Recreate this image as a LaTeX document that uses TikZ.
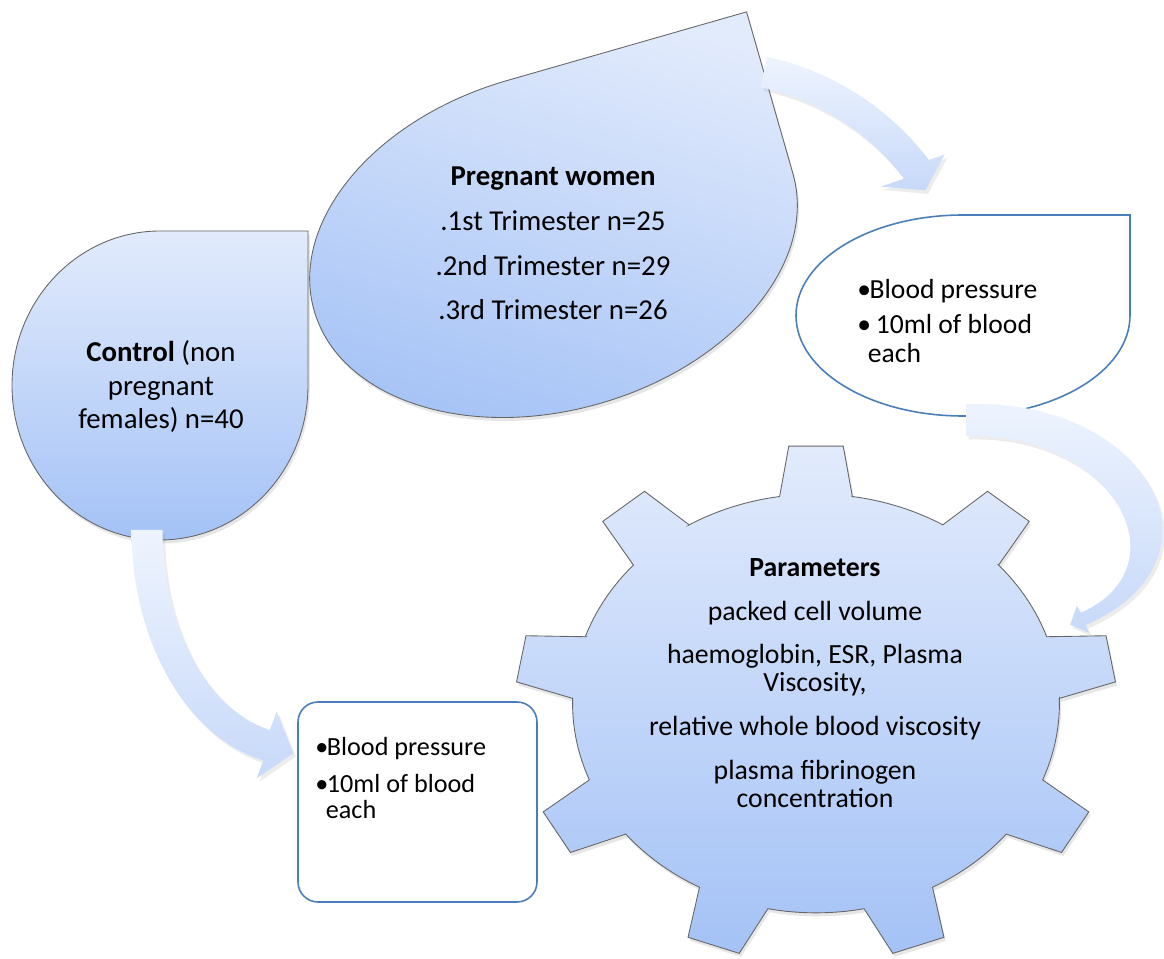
\documentclass[tikz,border=0pt]{standalone}
\usepackage{fontspec}
\setmainfont{Carlito}
\usetikzlibrary{shadows}

\definecolor{padtop}{RGB}{226,235,252}
\definecolor{padbot}{RGB}{164,194,246}
\definecolor{arrtop}{RGB}{238,244,254}
\definecolor{arrbot}{RGB}{199,217,249}
\definecolor{boxblue}{RGB}{74,126,187}

\newcommand{\bulletmark}[1]{\makebox[#1][l]{•}}

\tikzset{
  bluepad/.style={top color=padtop, bottom color=padbot, draw=black!60, line width=.5pt,
    drop shadow={opacity=.2, shadow xshift=1pt, shadow yshift=-2pt}},
  paleblock/.style={top color=arrtop, bottom color=arrbot,
    drop shadow={opacity=.15, shadow xshift=1.5pt, shadow yshift=-2pt}},
  whitepad/.style={fill=white, draw=boxblue, line width=.9pt},
  txt/.style={inner sep=0pt, text=black},
}

\begin{document}
\begin{tikzpicture}[x=.02cm, y=.02cm]
\useasboundingbox (0,0) rectangle (1164,958);
\clip (0,0) rectangle (1164,958);

% teardrops
\shade[bluepad, shift={(160,572.5)}] (148,0) arc[start angle=0, end angle=-270, x radius=148, y radius=154.5] -- (148,154.5) -- cycle;
\shade[bluepad, shading angle=-16, shift={(553.5,716)}, rotate=16] (249,0) arc[start angle=0, end angle=-270, x radius=249, y radius=168] -- (249,168) -- cycle;
\draw[whitepad, shift={(963,642.5)}] (167,0) arc[start angle=0, end angle=-270, x radius=167, y radius=100.5] -- (167,100.5) -- cycle;

% box
\draw[whitepad, rounded corners=.4cm] (298,56) rectangle (537,256);

% gear, 9 teeth
\begin{scope}[shift={(816,254.5)}, x=6.012cm, y=5.17cm]
\shade[bluepad] (81.4:0.81) \foreach \a in {90,130,...,410} {
  -- (\a-8.6:0.81) -- (\a-5.2:1) -- (\a+5.2:1) -- (\a+8.6:0.81)
  arc[start angle=\a+8.6, end angle=\a+31.4, radius=0.81] } -- cycle;
\end{scope}

% curved arrows
\begin{scope}[shift={(710,633)}]
\shade[paleblock] (78:274) arc[start angle=78, end angle=37, radius=274]
  -- (36:290) -- (32:254) -- (39:220) -- (37:243)
  arc[start angle=37, end angle=78, radius=243] -- cycle;
\end{scope}
\begin{scope}[shift={(298,428)}]
\shade[paleblock] (180:166.5 and 235.5) arc[start angle=180, end angle=258, x radius=166.5, y radius=235.5]
  -- (-41.3,-248.3) -- (-4.7,-223.3) -- (-21.3,-181.7) -- (258:135.5 and 204.5)
  arc[start angle=258, end angle=180, x radius=135.5, y radius=204.5] -- cycle;
\end{scope}
\shade[paleblock] (966,554) .. controls (1150,560) and (1235,398) .. (1085.6,333)
  -- (1089,325.2) -- (1070.2,333.4) -- (1077,352.8) -- (1080.4,345)
  .. controls (1185,391) and (1115,526) .. (966,522) -- cycle;

% texts
\node[txt, align=center, font=\fontsize{16.4}{19}\selectfont] (ctrl) at (161,571.5)
  {\textbf{Control} (non\\pregnant\\females) n=40};
\node[txt, align=center, font=\fontsize{16.4}{25.5}\selectfont] (preg) at (553,714.5)
  {\textbf{Pregnant women}\\.1st Trimester n=25\\.2nd Trimester n=29\\.3rd Trimester n=26};
\node[txt, align=left, anchor=north west, font=\fontsize{15.7}{16.4}\selectfont] (bpone) at (857,679)
  {\bulletmark{7pt}Blood pressure\\[3.4pt]\bulletmark{7pt} 10ml of blood\\\hspace*{6pt}each};
\node[txt, align=left, anchor=north west, font=\fontsize{14.9}{15.3}\selectfont] (bptwo) at (315,221.4)
  {\bulletmark{6.6pt}Blood pressure\\[5.7pt]\bulletmark{6.6pt}10ml of blood\\\hspace*{6pt}each};
\node[txt, align=center, font=\fontsize{15.8}{15.9}\selectfont] (param) at (815,275)
  {\textbf{Parameters}\\[9pt]packed cell volume\\[9pt]haemoglobin, ESR, Plasma\\Viscosity,\\[9pt]relative whole blood viscosity\\[9pt]plasma fibrinogen\\concentration};
\end{tikzpicture}
\end{document}
